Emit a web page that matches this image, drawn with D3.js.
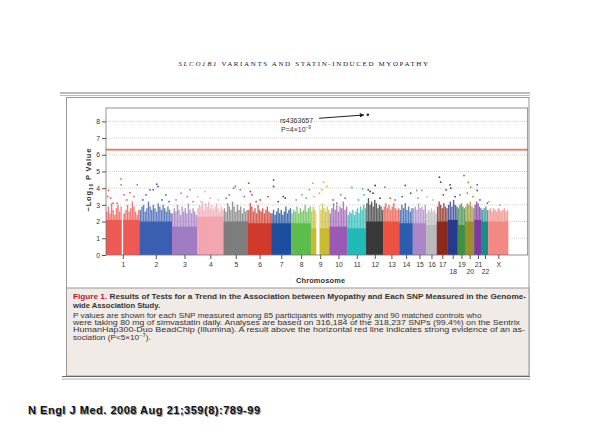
<!doctype html>
<html lang="en">
<head>
<meta charset="UTF-8" />
<title>SLCO1B1 Manhattan plot</title>
<script src="https://d3js.org/d3.v7.min.js"></script>
<style>
    html, body { margin: 0; padding: 0; background: #fff; overflow: hidden; }
    svg { display: block; }
    .axis text { font-family: "Liberation Sans", Arial, sans-serif; font-size: 6.8px; fill: #333; }
    .axis line { stroke: #555; }
    .axis path { display: none; }
</style>
</head>
<body>
<svg id="chart" width="590" height="443"></svg>
<script>
    // chromosomes, in plot order
    const chromLabels = ["1", "2", "3", "4", "5", "6", "7", "8", "9", "10", "11", "12",
        "13", "14", "15", "16", "17", "18", "19", "20", "21", "22", "X"];
    const lowerRow = ["18", "20", "22"];
    // SNPs per chromosome (thousands), read from the widths of the blocks
    const chromSnpsK = [26.4, 25.5, 19.7, 20.9, 19.2, 18.3, 15.7, 15.5, 14.6, 14.1, 14.7, 13.6,
        12.6, 10.5, 10.5, 8.4, 8.6, 7.9, 5.7, 7.3, 5.8, 5.2, 15.7];
    const chromColors = ["#ef5a55", "#3b60b2", "#a07cc2", "#f3a6b0", "#7d7d7d", "#d13a2c",
        "#1e4f9f", "#5dbd4b", "#c9bb2e", "#9a5ab5", "#22bab6", "#3a3a3a",
        "#ee5242", "#2b5eb2", "#ab86c8", "#b9b9be", "#8b2b1c", "#283b8d",
        "#3e9143", "#9b8f2e", "#7c3ba0", "#17908b", "#f28a84"];

    // -log10 P value up to which each block is solid
    const coreTop = [2.1, 2.0, 1.7, 2.3, 2.0, 1.9, 1.9, 1.9, 1.6, 1.7, 1.6, 2.0,
        2.0, 1.9, 1.9, 1.8, 2.0, 2.1, 1.8, 2.0, 2.1, 2.0, 2.0];

    // tops of the dense columns, evenly across each chromosome
    const spikeTops = [
        [2.6, 2.9, 2.5, 3.1, 2.7, 2.4, 2.8, 3.0, 2.6, 2.9, 2.5, 2.5, 2.7, 3.0, 2.6, 2.8, 3.2, 2.9, 2.6, 2.4, 2.7],
        [2.7, 2.9, 3.0, 2.6, 2.8, 3.2, 2.9, 2.7, 3.0, 2.8, 2.6, 3.1, 2.9, 2.7, 3.0, 2.8, 2.6, 2.9, 2.7, 2.5],
        [2.5, 2.8, 2.6, 3.0, 2.7, 2.4, 2.9, 2.6, 2.8, 2.5, 3.1, 2.7, 2.5, 2.8, 2.6, 2.4],
        [2.8, 3.0, 2.9, 3.2, 2.7, 3.1, 2.9, 3.2, 2.8, 3.0, 2.7, 2.9, 3.1, 2.8, 2.6, 2.9, 2.7],
        [2.8, 2.6, 3.1, 2.9, 2.7, 3.2, 2.9, 2.6, 3.0, 2.7, 2.9, 2.5, 2.8, 2.6, 2.7],
        [2.7, 3.1, 2.9, 2.6, 2.8, 2.5, 3.0, 2.7, 2.6, 2.8, 2.5, 2.7, 2.9, 2.6, 2.5],
        [2.5, 2.7, 2.4, 2.6, 2.8, 2.5, 2.7, 2.4, 2.6, 2.9, 2.5, 2.7, 2.8],
        [2.5, 2.7, 2.6, 2.9, 2.5, 2.8, 2.6, 2.7, 3.0, 2.6, 2.8, 2.9],
        [2.6, 2.9, 2.7, 2.5, 2.8, 3.0, 2.7, 3.1, 2.8, 2.6, 2.9, 2.7],
        [2.5, 2.8, 3.1, 2.7, 3.0, 2.6, 2.9, 2.8, 3.2, 2.7, 2.9],
        [2.4, 2.6, 2.5, 2.7, 2.4, 2.6, 2.8, 2.5, 2.9, 2.7, 3.0, 2.8],
        [3.1, 3.4, 3.0, 3.2, 2.9, 3.3, 3.1, 2.8, 3.0, 2.9, 2.7],
        [2.9, 3.1, 2.8, 3.0, 2.7, 2.9, 3.1, 2.8, 2.7, 2.8],
        [2.7, 3.0, 2.8, 3.1, 2.7, 2.9, 2.6, 2.8],
        [2.8, 2.9, 2.7, 3.1, 2.8, 2.9, 2.7, 3.0],
        [2.5, 2.7, 2.6, 2.8, 2.6, 2.7, 2.5],
        [2.9, 3.2, 3.0, 2.8, 3.1, 2.9, 2.8],
        [3.0, 3.2, 2.9, 3.3, 3.0, 2.9],
        [2.8, 3.0, 3.1, 2.9, 2.8],
        [2.9, 3.1, 3.0, 3.2, 2.9, 2.8],
        [3.0, 3.2, 3.1, 2.9, 2.8],
        [2.7, 2.8, 2.9, 2.7],
        [2.7, 2.8, 2.6, 2.8, 2.7, 2.6, 2.8, 2.7, 2.6, 2.7, 2.8, 2.6, 2.7]
    ];

    // scattered SNPs above the dense part: [fraction along chromosome, -log10 P]
    const hits = [
        [[0.05, 3.5], [0.07, 3.86], [0.14, 3.4], [0.45, 4.56], [0.45, 4.2], [0.54, 3.6], [0.71, 3.74], [0.93, 4.2], [0.21, 3.1], [0.33, 3.1], [0.62, 3.3], [0.83, 3.5]],
        [[0.53, 4.24], [0.32, 3.9], [0.2, 3.6], [0.81, 3.6], [0.42, 3.9], [0.57, 4.1], [0.1, 3.3], [0.69, 3.3], [0.91, 3.2]],
        [[0.61, 3.5], [0.84, 3.2], [0.16, 3.3], [0.36, 3.7], [0.72, 3.9]],
        [[0.02, 3.5], [0.15, 3.2], [0.5, 3.4], [0.3, 3.8], [0.8, 3.3]],
        [[0.41, 4.0], [0.48, 4.1], [0.68, 3.9], [0.23, 3.6], [0.11, 3.4], [0.85, 3.5]],
        [[0.03, 4.3], [0.1, 3.8], [0.17, 3.6], [0.86, 3.5], [0.53, 3.3], [0.35, 3.2]],
        [[0.12, 4.5], [0.12, 4.1], [0.7, 3.4], [0.6, 3.5], [0.35, 3.2]],
        [[0.54, 3.6], [0.25, 3.3], [0.76, 3.4], [0.92, 3.9]],
        [[0.1, 4.3], [0.68, 4.36], [0.59, 3.9], [0.46, 3.7], [0.86, 4.1], [0.18, 3.5]],
        [[0.63, 3.6], [0.87, 3.4], [0.41, 3.1], [0.2, 3.3]],
        [[0.24, 4.04], [0.82, 3.96], [0.59, 3.3], [0.89, 3.6]],
        [[0.52, 4.16], [0.23, 3.8], [0.4, 3.7], [0.8, 3.4], [0.12, 3.9]],
        [[0.1, 4.06], [0.42, 3.4], [0.73, 3.3]],
        [[0.43, 4.16], [0.85, 3.7], [0.2, 3.5]],
        [[0.3, 3.86], [0.68, 3.86], [0.4, 3.4]],
        [[0.1, 3.5], [0.65, 3.3]],
        [[0.24, 4.66], [0.36, 4.36], [0.6, 3.6], [0.85, 3.9]],
        [[0.23, 4.2], [0.3, 4.0], [0.73, 3.5]],
        [[0.86, 4.76], [0.3, 3.6]],
        [[0.35, 4.34], [0.61, 4.06], [0.25, 3.7], [0.86, 3.5]],
        [[0.4, 4.2], [0.4, 3.86], [0.77, 3.3]],
        [[0.85, 3.1]],
        [[0.03, 3.2], [0.58, 3.0]]
    ];

    // regions without SNPs (white columns)
    const gapChrom = ["1", "9"];
    const gapFrom = [0.47, 0.29];
    const gapTo = [0.51, 0.46];

    const yTicks = [0, 1, 2, 3, 4, 5, 6, 7, 8];
    const threshold = 6.3; // P = 5x10^-7
    const topSnp = { chrom: "12", frac: 0.1, value: 8.4, name: "rs4363657" };

    const svg = d3.select("#chart");
    const plot = { left: 106, right: 527.7, top: 108, bottom: 255 };

    const starts = d3.cumsum([0].concat(chromSnpsK));
    const x = d3.scaleLinear().domain([0, 331.7]).range([plot.left, plot.right]);
    const y = d3.scaleLinear().domain([0, 8.8]).range([plot.bottom, plot.top]);

    const chroms = chromLabels.map((lab, i) => ({
        lab: lab,
        start: starts[i],
        span: chromSnpsK[i],
        color: chromColors[i],
        core: coreTop[i],
        spikes: spikeTops[i],
        hits: hits[i]
    }));

    // ---- page frame ----
    svg.append("text")
        .attr("x", 303.5).attr("y", 65.8)
        .attr("text-anchor", "middle")
        .attr("font-family", "'Liberation Serif', 'DejaVu Serif', serif")
        .attr("font-size", 7)
        .attr("fill", "#222")
        .attr("letter-spacing", 0.5)
        .attr("textLength", 250)
        .call(t => {
            t.append("tspan").attr("font-style", "italic").text("SLCO1B1");
            t.append("tspan").text(" VARIANTS AND STATIN-INDUCED MYOPATHY");
        });

    [93, 95.5].forEach((yy, i) => {
        svg.append("line").attr("x1", 60).attr("x2", 530).attr("y1", yy).attr("y2", yy)
            .attr("stroke", i ? "#aaa" : "#777").attr("stroke-width", i ? 0.8 : 1.2);
    });

    svg.append("rect")
        .attr("x", 66.5).attr("y", 97.5).attr("width", 462.5).attr("height", 278.5)
        .attr("fill", "#fff").attr("stroke", "#999");
    svg.append("rect")
        .attr("x", 66.5).attr("y", 288).attr("width", 462.5).attr("height", 88)
        .attr("fill", "#f1ebe7").attr("stroke", "#999");
    [376.5, 379].forEach((yy, i) => {
        svg.append("line").attr("x1", 62).attr("x2", 530).attr("y1", yy).attr("y2", yy)
            .attr("stroke", i ? "#999" : "#666").attr("stroke-width", i ? 0.8 : 1.2);
    });

    // ---- grid ----
    svg.append("g").selectAll("line")
        .data(yTicks.filter(d => d > 0))
        .join("line")
        .attr("x1", plot.left).attr("x2", plot.right)
        .attr("y1", d => y(d)).attr("y2", d => y(d))
        .attr("stroke", "#bbb").attr("stroke-width", 0.7)
        .attr("stroke-dasharray", "1,1");

    // ---- chromosome blocks ----
    const g = svg.append("g").selectAll("g").data(chroms).join("g");

    g.append("rect")
        .attr("x", d => x(d.start))
        .attr("width", d => x(d.start + d.span) - x(d.start))
        .attr("y", d => y(d.core))
        .attr("height", d => y(0) - y(d.core))
        .attr("fill", d => d.color);

    g.selectAll(".spike")
        .data(d => d.spikes.map((v, j) => ({ pos: d.start + d.span * (j + 0.5) / d.spikes.length, v: v, color: d.color })))
        .join("rect")
        .attr("class", "spike")
        .attr("x", d => x(d.pos) - 0.7)
        .attr("width", 1.4)
        .attr("y", d => y(d.v))
        .attr("height", d => y(0) - y(d.v))
        .attr("fill", d => d.color)
        .attr("opacity", 0.8);

    gapChrom.forEach((lab, i) => {
        const c = chroms.find(d => d.lab === lab);
        svg.append("rect")
            .attr("x", x(c.start + c.span * gapFrom[i]))
            .attr("width", x(c.start + c.span * gapTo[i]) - x(c.start + c.span * gapFrom[i]))
            .attr("y", y(3.5)).attr("height", y(0) - y(3.5))
            .attr("fill", "#fff");
    });

    g.selectAll(".hit")
        .data(d => d.hits.map(h => ({ pos: d.start + d.span * h[0], v: h[1], color: d.color })))
        .join("circle")
        .attr("class", "hit")
        .attr("cx", d => x(d.pos))
        .attr("cy", d => y(d.v))
        .attr("r", 0.9)
        .attr("fill", d => d.color);

    // threshold line
    svg.append("line")
        .attr("x1", plot.left).attr("x2", plot.right)
        .attr("y1", y(threshold)).attr("y2", y(threshold))
        .attr("stroke", "#f4c4b4").attr("stroke-width", 2.4);
    svg.append("line")
        .attr("x1", plot.left).attr("x2", plot.right)
        .attr("y1", y(threshold)).attr("y2", y(threshold))
        .attr("stroke", "#e2664a").attr("stroke-width", 1);

    // plot frame
    svg.append("rect")
        .attr("x", plot.left).attr("y", plot.top)
        .attr("width", plot.right - plot.left).attr("height", plot.bottom - plot.top)
        .attr("fill", "none").attr("stroke", "#777").attr("stroke-width", 0.8);

    // ---- axes ----
    const centers = chroms.map(d => d.start + d.span / 2);
    const xAxis = svg.append("g")
        .attr("class", "axis")
        .attr("transform", `translate(0,${plot.bottom})`)
        .call(d3.axisBottom(x).tickValues(centers).tickSize(4).tickPadding(3)
            .tickFormat((d, i) => chromLabels[i]));
    xAxis.selectAll(".tick text")
        .attr("dy", (d, i) => lowerRow.includes(chromLabels[i]) ? "1.75em" : "0.71em");

    svg.append("g")
        .attr("class", "axis")
        .attr("transform", `translate(${plot.left},0)`)
        .call(d3.axisLeft(y).tickValues(yTicks).tickSize(4).tickPadding(2).tickFormat(d3.format("d")));

    svg.append("text")
        .attr("x", 320.5).attr("y", 282.5)
        .attr("text-anchor", "middle")
        .attr("font-family", "'Liberation Sans', Arial, sans-serif")
        .attr("font-weight", 700)
        .attr("font-size", 7.4)
        .attr("fill", "#333")
        .attr("textLength", 49)
        .text("Chromosome");

    svg.append("text")
        .attr("transform", "translate(90.5,180) rotate(-90)")
        .attr("text-anchor", "middle")
        .attr("font-family", "'Liberation Sans', Arial, sans-serif")
        .attr("font-weight", 700)
        .attr("font-size", 7.6)
        .attr("fill", "#333")
        .attr("textLength", 63)
        .call(t => {
            t.append("tspan").text("\u2212Log");
            t.append("tspan").attr("font-size", 5.2).attr("dy", 2).text("10");
            t.append("tspan").attr("dy", -2).text(" P Value");
        });

    // ---- top SNP annotation ----
    const tc = chroms.find(d => d.lab === topSnp.chrom);
    const tx = x(tc.start + tc.span * topSnp.frac);
    const ty = y(topSnp.value);
    svg.append("circle").attr("cx", tx).attr("cy", ty).attr("r", 1.3).attr("fill", "#222");

    svg.append("defs").append("marker")
        .attr("id", "arrow").attr("viewBox", "0 0 10 10")
        .attr("refX", 9).attr("refY", 5)
        .attr("markerWidth", 5).attr("markerHeight", 4)
        .attr("orient", "auto")
        .append("path").attr("d", "M0,0L10,5L0,10z").attr("fill", "#222");
    svg.append("line")
        .attr("x1", 319).attr("y1", ty + 3.5)
        .attr("x2", tx - 4).attr("y2", ty + 0.3)
        .attr("stroke", "#222").attr("stroke-width", 1.1)
        .attr("marker-end", "url(#arrow)");

    const annot = svg.append("g")
        .attr("font-family", "'Liberation Sans', Arial, sans-serif")
        .attr("font-size", 7)
        .attr("fill", "#333");
    annot.append("text").attr("x", 280).attr("y", 122.5).text(topSnp.name);
    annot.append("text").attr("x", 281).attr("y", 131.5)
        .call(t => {
            t.append("tspan").text("P=4\u00d710");
            t.append("tspan").attr("font-size", 4.8).attr("dy", -2.6).text("\u22129");
        });

    // ---- caption ----
    const capX = 73;
    const capFont = "'Liberation Sans', Arial, sans-serif";
    const caption = svg.append("g").attr("font-family", capFont).attr("fill", "#333");

    caption.append("text")
        .attr("x", capX).attr("y", 299.3)
        .attr("font-size", 7).attr("font-weight", 700)
        .attr("textLength", 453).attr("lengthAdjust", "spacingAndGlyphs")
        .call(t => {
            t.append("tspan").attr("fill", "#c8102e").text("Figure 1.");
            t.append("tspan").text(" Results of Tests for a Trend in the Association between Myopathy and Each SNP Measured in the Genome-");
        });
    caption.append("text")
        .attr("x", capX).attr("y", 307.5)
        .attr("font-size", 7).attr("font-weight", 700)
        .attr("textLength", 87).attr("lengthAdjust", "spacingAndGlyphs")
        .text("wide Association Study.");

    const bodyLines = [
        "P values are shown for each SNP measured among 85 participants with myopathy and 90 matched controls who",
        "were taking 80 mg of simvastatin daily. Analyses are based on 316,184 of the 318,237 SNPs (99.4%) on the Sentrix",
        "HumanHap300-Duo BeadChip (Illumina). A result above the horizontal red line indicates strong evidence of an as-"
    ];
    const bodyWidths = [408.5, 447, 452];
    let stretch = 1;
    bodyLines.forEach((s, i) => {
        const t = caption.append("text")
            .attr("x", capX).attr("y", 317.8 + i * 7.3)
            .attr("font-size", 6.6)
            .text(s);
        if (i === 0) stretch = bodyWidths[0] / t.node().getComputedTextLength();
        t.attr("textLength", bodyWidths[i]).attr("lengthAdjust", "spacingAndGlyphs");
    });
    const last = caption.append("text")
        .attr("x", capX).attr("y", 317.8 + 3 * 7.3)
        .attr("font-size", 6.6)
        .call(t => {
            t.append("tspan").text("sociation (P<5\u00d710");
            t.append("tspan").attr("font-size", 4.7).attr("dy", -2.4).text("\u22127");
            t.append("tspan").attr("dy", 2.4).text(").");
        });
    last.attr("textLength", last.node().getComputedTextLength() * stretch)
        .attr("lengthAdjust", "spacingAndGlyphs");

    // ---- reference line ----
    const ref = "N Engl J Med. 2008 Aug 21;359(8):789-99";
    svg.append("text")
        .attr("x", 29).attr("y", 415)
        .attr("font-family", "'Liberation Sans', Arial, sans-serif")
        .attr("font-weight", 700).attr("font-size", 11)
        .attr("fill", "#9a9a9a").attr("textLength", 232)
        .text(ref);
    svg.append("text")
        .attr("x", 28).attr("y", 414)
        .attr("font-family", "'Liberation Sans', Arial, sans-serif")
        .attr("font-weight", 700).attr("font-size", 11)
        .attr("fill", "#111").attr("textLength", 232)
        .text(ref);
</script>
</body>
</html>
